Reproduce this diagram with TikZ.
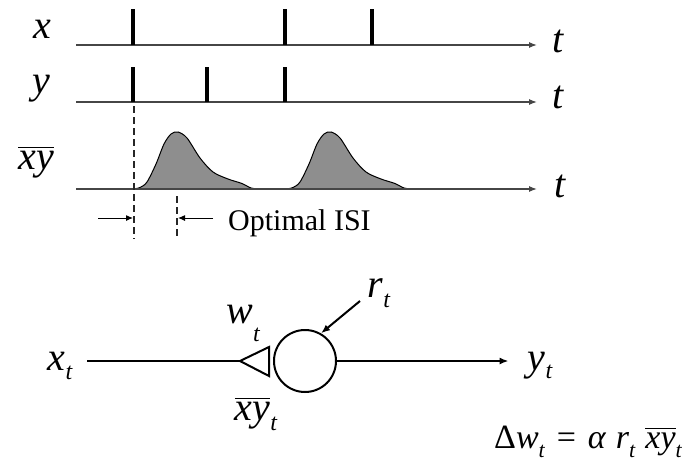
\documentclass[tikz,border=0pt]{standalone}
\usepackage{amsmath}
\usepackage{fontspec}
\setmainfont{Liberation Serif}
\newfontfamily\tmsit{Liberation Serif Italic}
\usetikzlibrary{arrows.meta}
\newcommand\subt[2]{\raisebox{-#1}{\fontsize{#2}{#2}\selectfont\tmsit t}}
\newcommand\xybar{$\overline{\hbox{\tmsit xy}}$}
\definecolor{humpgray}{RGB}{142,142,142}
\definecolor{axisgray}{RGB}{70,70,70}
\begin{document}
\begin{tikzpicture}[x=1pt,y=-1pt,
  axis/.style={draw=axisgray, line width=1.2pt, -{Latex[length=8pt,width=6pt]}},
  spike/.style={line width=3.8pt},
  lbl/.style={font=\fontsize{40}{44}\selectfont\tmsit, inner sep=0pt},
  eqlbl/.style={font=\fontsize{34}{38}\selectfont, inner sep=0pt},
  dashline/.style={draw=black!85, line width=1.1pt, dash pattern=on 7pt off 4pt},
  isiarrow/.style={line width=1pt, -{Latex[length=7pt,width=6pt]}},
  wire/.style={line width=2pt},
  wirearrow/.style={line width=2pt, -{Latex[length=9pt,width=7pt]}},
  hump/.style={fill=humpgray, draw=black, line width=1pt}
]
\useasboundingbox (0,0) rectangle (686,461);

% ---- spike trains ----
\node[lbl] (lx) at (42,29) {x};
\node[lbl] (ly) at (41,89) {y};
\node[lbl] (lxy) at (36,162) {\xybar};
\node[lbl] (t1) at (558,41) {t};
\node[lbl] (t2) at (558,97) {t};
\node[lbl] (t3) at (560,186) {t};

\coordinate (a1s) at (76,45);  \coordinate (a1e) at (537,45);
\coordinate (a2s) at (76,102); \coordinate (a2e) at (537,102);
\coordinate (a3s) at (76,189); \coordinate (a3e) at (537,189);

% humps
\foreach \dx in {0,153}{
  \begin{scope}[xshift=\dx]
    \path[hump] plot[smooth, tension=0.5] coordinates {
      (133,189) (140,187.5) (147,182) (156,164) (164,144) (171,134) (178,132)
      (187,138) (200,158) (213,172) (228,179) (242,183.5) (251,188) (260,189)} -- cycle;
  \end{scope}
}

\draw[axis] (a1s) -- (a1e);
\draw[axis] (a2s) -- (a2e);
\draw[axis] (a3s) -- (a3e);

\foreach \sx in {133,285,372} \draw[spike] (\sx,9) -- (\sx,45);
\foreach \sx in {133,207,285} \draw[spike] (\sx,67) -- (\sx,102);

% optimal ISI
\coordinate (d1t) at (134,106); \coordinate (d1b) at (134,239);
\coordinate (d2t) at (177,196); \coordinate (d2b) at (177,239);
\draw[dashline] (d1t) -- (d1b);
\draw[dashline] (d2t) -- (d2b);
\coordinate (i1s) at (98,218);  \coordinate (i1e) at (133,218);
\coordinate (i2s) at (213,218); \coordinate (i2e) at (178,218);
\draw[isiarrow] (i1s) -- (i1e);
\draw[isiarrow] (i2s) -- (i2e);
\node[font=\fontsize{30}{34}\selectfont, inner sep=0pt, anchor=base west] (isi) at (228,230) {Optimal ISI};

% ---- neuron ----
\node[lbl, anchor=base] (xt) at (60,370) {x\subt{9pt}{24}};
\coordinate (apex) at (240,361);
\draw[wire, shorten <=15pt] (xt.east |- apex) -- (apex);
\draw[wire, line join=miter] (apex) -- (269,347) -- (269,376) -- cycle;
\node[circle, draw, line width=2pt, minimum size=62pt, inner sep=0pt] (n) at (305,361) {};
\node[lbl, anchor=base] (yt) at (540,370) {y\subt{8pt}{24}};
\draw[wirearrow, shorten >=19pt] (n.east) -- (yt.west |- n.east);
\node[lbl, anchor=base] (rt) at (379,297) {r\subt{10pt}{24}};
\coordinate (rtail) at (360,301);
\draw[wirearrow] (rtail) -- (n.60);
\node[lbl, anchor=base] (wt) at (243,323) {w\subt{18pt}{24}};
\node[lbl, anchor=base] (xyt) at (256,420) {\xybar\subt{10pt}{24}};

\node[eqlbl, anchor=base west] (eqn) at (494,448)
  {Δ{\tmsit w}\subt{9pt}{22}\hspace{0.35em}=\hspace{0.35em}{\tmsit α}\hspace{0.3em}{\tmsit r}\subt{9pt}{22}\hspace{0.3em}\xybar\subt{9pt}{22}};
\end{tikzpicture}
\end{document}
